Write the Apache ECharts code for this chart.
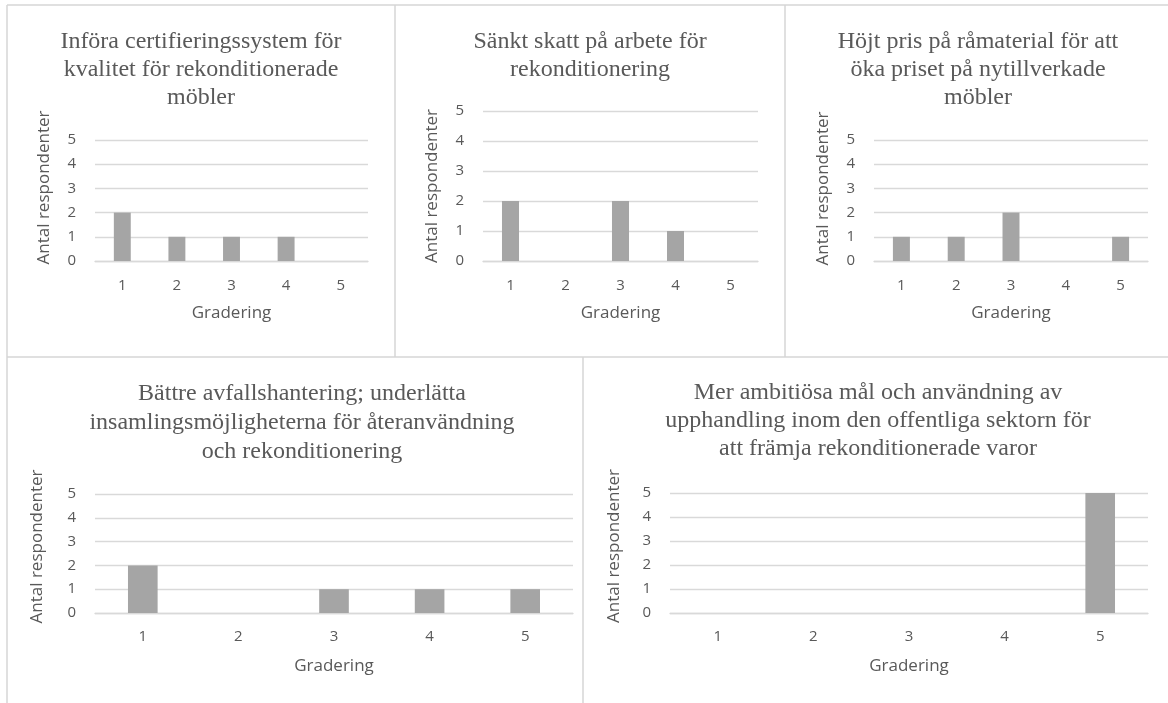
<!DOCTYPE html>
<html>
<head>
<meta charset="utf-8">
<script src="https://cdn.jsdelivr.net/npm/echarts@6/dist/echarts.min.js"></script>
<style>
  html, body { margin: 0; padding: 0; background: #fff; }
  #chart { width: 1168px; height: 703px; }
</style>
</head>
<body>
<div id="chart"></div>
<script>
// gradering 1..5 på x-axeln, antal respondenter på y-axeln
const categories = ['1', '2', '3', '4', '5'];
const yTicks = [0, 1, 2, 3, 4, 5];

const titles = [
  'Införa certifieringssystem för\nkvalitet för rekonditionerade\nmöbler',
  'Sänkt skatt på arbete för\nrekonditionering',
  'Höjt pris på råmaterial för att\nöka priset på nytillverkade\nmöbler',
  'Bättre avfallshantering; underlätta\ninsamlingsmöjligheterna för återanvändning\noch rekonditionering',
  'Mer ambitiösa mål och användning av\nupphandling inom den offentliga sektorn för\natt främja rekonditionerade varor'
];

const certifiering = [2, 1, 1, 1, 0];
const skattArbete = [2, 0, 2, 1, 0];
const prisRamaterial = [1, 1, 2, 0, 1];
const avfall = [2, 0, 1, 1, 1];
const upphandling = [0, 0, 0, 0, 5];

const values = [certifiering, skattArbete, prisRamaterial, avfall, upphandling];

// plats för varje delpanel (pixlar)
const panels = [
  { left: 95, right: 800, top: 140, bottom: 442, titleX: 201, titleY: 28, lh: 28, nameGap: 42, nameShift: 13, labelY: 17, xNameGap: 44 },
  { left: 483, right: 410, top: 111, bottom: 442, titleX: 590, titleY: 28, lh: 28, nameGap: 42, nameShift: 0, labelY: 17, xNameGap: 44 },
  { left: 874, right: 20, top: 140, bottom: 442, titleX: 978, titleY: 28, lh: 28, nameGap: 42, nameShift: 12, labelY: 17, xNameGap: 44 },
  { left: 95, right: 595, top: 494, bottom: 90, titleX: 302, titleY: 379, lh: 29, nameGap: 49, nameShift: 7, labelY: 16, xNameGap: 45 },
  { left: 670, right: 20, top: 493, bottom: 90, titleX: 878, titleY: 379, lh: 28, nameGap: 47, nameShift: 7, labelY: 16, xNameGap: 45 }
];

const TEXT = '#595959';
const GRID_LINE = '#d9d9d9';
const BAR = '#a5a5a5';
const BORDER = '#d6d6d6';

const chart = echarts.init(document.getElementById('chart'), null, { renderer: 'canvas' });

const option = {
  backgroundColor: '#ffffff',
  animation: false,
  title: [],
  grid: [],
  xAxis: [],
  yAxis: [],
  series: [],
  graphic: []
};

panels.forEach((p, i) => {
  option.title.push({
    text: titles[i],
    left: p.titleX,
    top: p.titleY,
    textAlign: 'center',
    padding: 0,
    textStyle: {
      fontFamily: 'Liberation Serif',
      fontWeight: 'normal',
      fontSize: 24,
      lineHeight: p.lh,
      color: TEXT
    }
  });
  option.grid.push({ left: p.left, right: p.right, top: p.top, bottom: p.bottom, containLabel: false });
  option.xAxis.push({
    gridIndex: i,
    type: 'category',
    data: categories,
    name: 'Gradering',
    nameLocation: 'middle',
    nameGap: p.xNameGap,
    nameTextStyle: { fontFamily: 'Open Sans', fontSize: 17, color: TEXT },
    axisLine: { show: true, lineStyle: { color: GRID_LINE, width: 1.3 } },
    axisTick: { show: false },
    axisLabel: { fontFamily: 'Open Sans', fontSize: 15, color: TEXT, margin: p.labelY }
  });
  option.yAxis.push({
    gridIndex: i,
    type: 'value',
    min: yTicks[0],
    max: yTicks[yTicks.length - 1],
    interval: 1,
    name: 'Antal respondenter',
    nameLocation: 'middle',
    nameRotate: 90,
    nameGap: p.nameGap,
    nameTextStyle: {
      fontFamily: 'Open Sans', fontSize: 17, color: TEXT,
      padding: [0, 0, 0, p.nameShift * 2]
    },
    axisLine: { show: false },
    axisTick: { show: false },
    axisLabel: { fontFamily: 'Open Sans', fontSize: 15, color: TEXT, margin: 19 },
    splitLine: { lineStyle: { color: GRID_LINE, width: 1.3 } }
  });
  option.series.push({
    type: 'bar',
    xAxisIndex: i,
    yAxisIndex: i,
    data: values[i],
    barWidth: '31%',
    itemStyle: { color: BAR }
  });
});

// ramar runt panelerna
const borders = [
  [7, 5, 1168, 5],
  [7, 5, 7, 703],
  [395, 5, 395, 357],
  [785, 5, 785, 357],
  [7, 357, 1168, 357],
  [583, 357, 583, 703]
];
borders.forEach(b => {
  option.graphic.push({
    type: 'line',
    silent: true,
    shape: { x1: b[0], y1: b[1], x2: b[2], y2: b[3] },
    style: { stroke: BORDER, lineWidth: 1.5 }
  });
});

chart.setOption(option);
</script>
</body>
</html>
